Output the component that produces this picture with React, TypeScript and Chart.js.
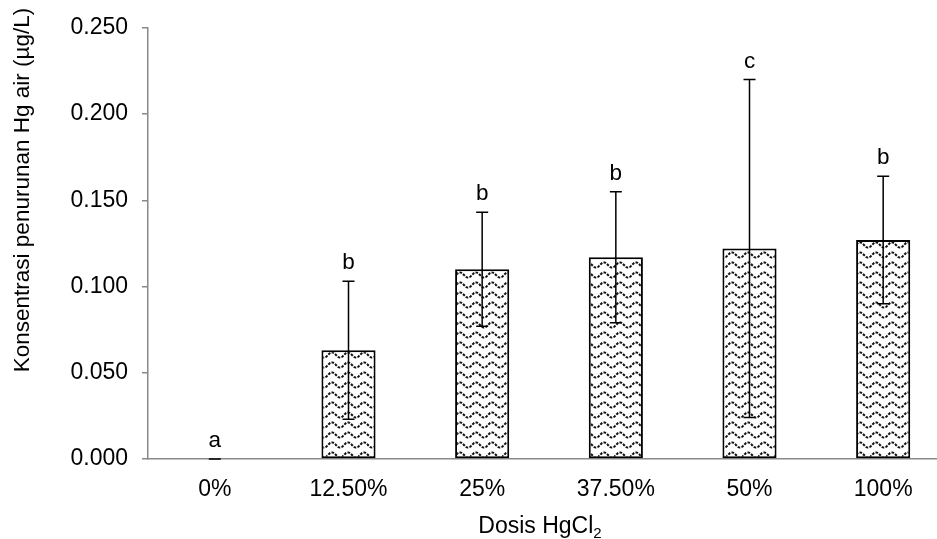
import React, { useEffect, useRef } from "react";
import { Chart, registerables } from "chart.js";

Chart.register(...registerables);

const categories = ["0%", "12.50%", "25%", "37.50%", "50%", "100%"];
const means = [0, 0.063, 0.11, 0.117, 0.122, 0.127];
const sds = [0, 0.04, 0.033, 0.038, 0.098, 0.037];
const letters = ["a", "b", "b", "b", "c", "b"];
const yTicks = [0, 0.05, 0.1, 0.15, 0.2, 0.25];

const FONT = '"Liberation Sans", Arial, sans-serif';
const AXIS_GRAY = "#898989";

function makePattern(): CanvasPattern | string {
  const c = document.createElement("canvas");
  c.width = 16;
  c.height = 10;
  const g = c.getContext("2d");
  if (!g) return "#fff";
  g.fillStyle = "#ffffff";
  g.fillRect(0, 0, 16, 10);
  g.strokeStyle = "#111";
  g.lineWidth = 2;
  g.setLineDash([2.6, 1.3]);
  g.beginPath();
  for (let x = -1; x <= 17; x += 0.5) {
    const y = 5 + 2.6 * Math.sin((x / 16) * Math.PI * 2);
    if (x === -1) g.moveTo(x, y);
    else g.lineTo(x, y);
  }
  g.stroke();
  const p = g.createPattern(c, "repeat");
  return p || "#fff";
}

const overlayPlugin = {
  id: "overlay",
  afterDatasetsDraw(chart: any) {
    const ctx = chart.ctx;
    const meta = chart.getDatasetMeta(0);
    const ys = chart.scales.y;
    ctx.save();
    meta.data.forEach((bar: any, i: number) => {
      const x = bar.x;
      const top = ys.getPixelForValue(means[i] + sds[i]);
      const bot = ys.getPixelForValue(means[i] - sds[i]);
      ctx.strokeStyle = "#000";
      ctx.lineWidth = 1.5;
      ctx.beginPath();
      ctx.moveTo(x, top);
      ctx.lineTo(x, bot);
      ctx.moveTo(x - 6, top);
      ctx.lineTo(x + 6, top);
      ctx.moveTo(x - 6, bot);
      ctx.lineTo(x + 6, bot);
      ctx.stroke();
      ctx.fillStyle = "#000";
      ctx.font = `22.5px ${FONT}`;
      ctx.textAlign = "center";
      ctx.textBaseline = "alphabetic";
      ctx.fillText(letters[i], x, top - 12);
    });
    ctx.restore();
  },
  afterDraw(chart: any) {
    const ctx = chart.ctx;
    ctx.save();
    ctx.fillStyle = "#000";
    ctx.font = `22.5px ${FONT}`;
    ctx.textAlign = "center";
    ctx.textBaseline = "middle";
    ctx.translate(23, 190);
    ctx.rotate(-Math.PI / 2);
    ctx.fillText("Konsentrasi penurunan Hg air (µg/L)", 0, 0);
    ctx.restore();

    ctx.save();
    ctx.fillStyle = "#000";
    ctx.textBaseline = "alphabetic";
    ctx.textAlign = "left";
    const main = "Dosis HgCl";
    ctx.font = `23px ${FONT}`;
    const w1 = ctx.measureText(main).width;
    ctx.font = `15px ${FONT}`;
    const w2 = ctx.measureText("2").width;
    const cx = 540;
    const startX = cx - (w1 + w2) / 2;
    const baseY = 533;
    ctx.font = `23px ${FONT}`;
    ctx.fillText(main, startX, baseY);
    ctx.font = `15px ${FONT}`;
    ctx.fillText("2", startX + w1, baseY + 5);
    ctx.restore();
  },
};

export default function App() {
  const ref = useRef<HTMLCanvasElement | null>(null);

  useEffect(() => {
    if (!ref.current) return;
    const pattern = makePattern();
    const chart = new Chart(ref.current, {
      type: "bar",
      data: {
        labels: categories,
        datasets: [
          {
            data: means,
            backgroundColor: pattern as any,
            borderColor: "#000",
            borderWidth: (c: any) => (c.raw === 0 ? 0 : 2),
            borderSkipped: false,
            categoryPercentage: 1,
            barPercentage: 0.405,
          },
        ],
      },
      options: {
        responsive: false,
        animation: false,
        devicePixelRatio: 1,
        layout: { padding: { top: 26, left: 0, right: 0, bottom: 0 } },
        plugins: {
          legend: { display: false },
          tooltip: { enabled: false },
          title: { display: false },
        },
        scales: {
          x: {
            offset: true,
            grid: { display: false, drawTicks: false },
            border: { display: true, color: AXIS_GRAY, width: 1.5 },
            ticks: {
              color: "#000",
              font: { family: FONT, size: 23 },
              padding: 17,
              maxRotation: 0,
              autoSkip: false,
            },
            afterFit: (s: any) => {
              s.height = 80;
            },
          },
          y: {
            min: 0,
            max: 0.25,
            afterBuildTicks: (s: any) => {
              s.ticks = yTicks.map((v) => ({ value: v }));
            },
            grid: {
              drawOnChartArea: false,
              drawTicks: true,
              tickLength: 6,
              color: AXIS_GRAY,
              lineWidth: 1.5,
            },
            border: { display: true, color: AXIS_GRAY, width: 1.5 },
            ticks: {
              color: "#000",
              font: { family: FONT, size: 23 },
              padding: 14,
              callback: (v: any) => Number(v).toFixed(3),
            },
            afterFit: (s: any) => {
              s.width = 148;
            },
          },
        },
      },
      plugins: [overlayPlugin],
    });
    return () => chart.destroy();
  }, []);

  return (
    <div
      style={{
        position: "fixed",
        left: 0,
        top: 0,
        width: 937,
        height: 539,
        overflow: "hidden",
        background: "#fff",
      }}
    >
      <canvas ref={ref} width={950} height={539} style={{ display: "block" }} />
    </div>
  );
}
